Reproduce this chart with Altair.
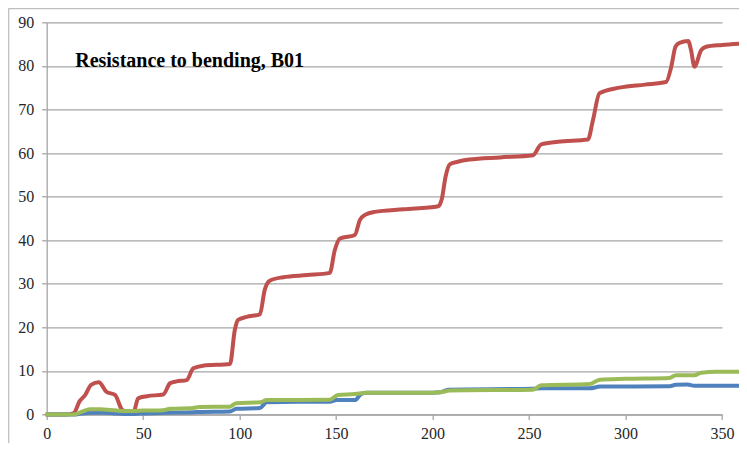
import altair as alt
import pandas as pd

red_x = [0, 10, 14, 17, 20, 23, 27, 31, 35.4, 38.9, 41, 45, 47.4, 52, 60.4, 64, 67.3, 72.5, 76, 81, 95, 97.5, 99.2, 103.6,
         110.5, 113, 115.6, 122.5, 135, 146.7, 149.3, 152, 159.7, 162.3, 165, 170, 185, 203, 204.8, 206.7, 208.9, 213,
         219, 235, 252, 256.3, 265, 280.5, 283.1, 286.5, 296.9, 310, 321, 323.7, 325.9, 328, 332.5, 334, 335.7, 339.2,
         341.8, 350, 359]
red_y = [0, 0, 0.3, 3.0, 4.5, 6.8, 7.4, 5.2, 4.5, 1.2, 0.7, 0.6, 3.7, 4.2, 4.6, 7.2, 7.6, 7.9, 10.6, 11.2, 11.6, 19.4, 21.7,
         22.4, 23.0, 28.6, 30.7, 31.5, 32.0, 32.5, 37.7, 40.4, 41.2, 44.6, 45.8, 46.5, 47.1, 47.8, 49.5, 54.5, 57.4, 58.0,
         58.5, 59.0, 59.5, 62.0, 62.6, 63.1, 67.5, 73.7, 75.0, 75.7, 76.3, 79.8, 84.4, 85.3, 85.7, 83.5, 79.8, 83.6, 84.4,
         84.8, 85.1]

blue_x = [0, 14, 18, 22.4, 29.3, 34, 39.7, 45, 48.2, 62, 75.9, 79, 94.9, 98.3, 110.5, 114, 130, 146.7, 150.2, 159.7, 163,
          166, 200, 204, 208, 252, 256, 281.5, 286.7, 322.8, 326, 332, 335.7, 359]
blue_y = [0, 0, 0.2, 0.4, 0.4, 0.3, 0.1, 0.1, 0.2, 0.4, 0.5, 0.6, 0.7, 1.3, 1.5, 2.8, 2.9, 2.9, 3.3, 3.3, 4.7, 5.0, 5.0,
          5.1, 5.7, 5.9, 6.0, 6.0, 6.4, 6.5, 6.8, 6.9, 6.6, 6.6]

green_x = [0, 14, 18, 22.4, 27.6, 36.3, 40, 44.1, 50, 60.4, 63.9, 75.9, 79, 94.9, 98.3, 110.5, 114, 146.7, 151, 159.7,
           165.7, 200, 204, 209, 252, 256.3, 281.5, 286.7, 300, 322.8, 326.2, 335.7, 339.2, 347, 359]
green_y = [0, 0, 0.6, 1.2, 1.2, 0.9, 0.8, 0.8, 0.9, 1.0, 1.3, 1.5, 1.7, 1.8, 2.6, 2.8, 3.3, 3.4, 4.5, 4.7, 5.0, 5.0, 5.1,
           5.5, 5.7, 6.7, 7.0, 8.0, 8.2, 8.4, 9.0, 9.0, 9.6, 9.8, 9.8]

title_text = "Resistance to bending, B01"
x_ticks = [0, 50, 100, 150, 200, 250, 300, 350]
y_ticks = [0, 10, 20, 30, 40, 50, 60, 70, 80, 90]

FONT = "Liberation Serif"
GRID = "#A6A6A6"

x_scale = alt.Scale(domain=[0, 350], nice=False, zero=False)
y_scale = alt.Scale(domain=[0, 90], nice=False)

x_axis = alt.Axis(values=x_ticks, grid=False, title=None, labelPadding=6, labelFlush=False)
y_axis = alt.Axis(values=y_ticks, grid=True, title=None, labelPadding=8)


def series_line(xs, ys, color):
    df = pd.DataFrame({"x": xs, "y": ys})
    return alt.Chart(df).mark_line(color=color, strokeWidth=4, interpolate="monotone", strokeCap="round",
                                   strokeJoin="round", clip=False).encode(
        x=alt.X("x:Q", scale=x_scale, axis=x_axis),
        y=alt.Y("y:Q", scale=y_scale, axis=y_axis),
    )


red = series_line(red_x, red_y, "#C0504D")
blue = series_line(blue_x, blue_y, "#4F81BD")
green = series_line(green_x, green_y, "#9BBB59")

title = alt.Chart(pd.DataFrame({"t": [title_text]})).mark_text(
    font=FONT, fontSize=20, fontWeight="bold", align="left", baseline="alphabetic", color="#000000"
).encode(x=alt.value(28.5), y=alt.value(44.5), text="t:N")

frame_left = alt.Chart(pd.DataFrame({"a": [0]})).mark_rule(color="#BFBFBF", strokeWidth=1.3).encode(
    x=alt.value(-38.0), y=alt.value(-14.0), y2=alt.value(430))
frame_top = alt.Chart(pd.DataFrame({"a": [0]})).mark_rule(color="#BFBFBF", strokeWidth=1.3).encode(
    x=alt.value(-38.0), x2=alt.value(700), y=alt.value(-13.6))

chart = alt.layer(red, blue, green, frame_left, frame_top, title).properties(
    width=675.3, height=392.2,
    padding={"left": 38.7, "top": 14.3, "right": 16.5, "bottom": 28.5},
    autosize=alt.AutoSizeParams(type="none"),
).configure_view(stroke=None).configure_axis(
    labelFont=FONT, labelFontSize=16, labelColor="#262626",
    domainColor=GRID, tickColor=GRID, gridColor=GRID, tickSize=5,
    domainWidth=1.3, tickWidth=1.3, gridWidth=1.3,
)

chart.save("out.html", embed_options={"renderer": "svg", "actions": False})
